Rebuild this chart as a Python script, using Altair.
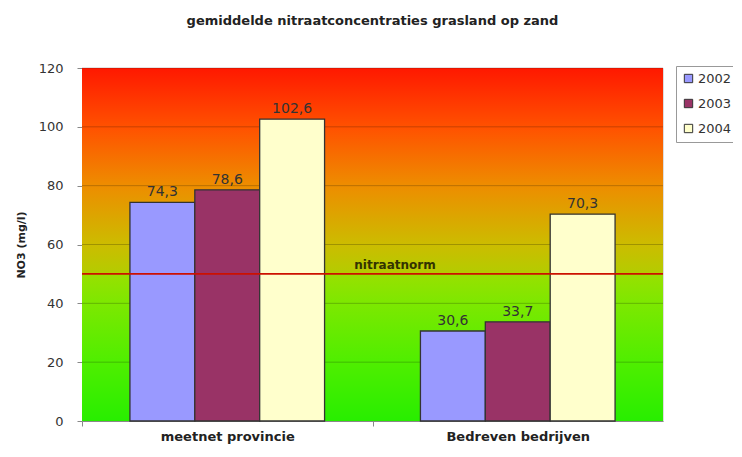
import altair as alt
import pandas as pd

# ---- data ----
categories = ["meetnet provincie", "Bedreven  bedrijven"]
years = ["2002", "2003", "2004"]
values_meetnet = [74.3, 78.6, 102.6]
values_bedrijven = [30.6, 33.7, 70.3]
year_colors = ["#9999FF", "#993366", "#FFFFCC"]
y_ticks = [0, 20, 40, 60, 80, 100, 120]
grid_values = [20, 40, 60, 80, 100, 120]
norm_value = 50
norm_label = "nitraatnorm"
title_text = "gemiddelde nitraatconcentraties grasland op zand"
y_title = "NO3 (mg/l)"

rows = []
for cat, vals in zip(categories, [values_meetnet, values_bedrijven]):
    for yr, v in zip(years, vals):
        rows.append({"cat": cat, "year": yr, "value": v,
                     "label": f"{v:.1f}".replace(".", ",")})
df = pd.DataFrame(rows)

W, H = 581, 353
FONT = "DejaVu Sans"

yscale = alt.Scale(domain=[0, 120], nice=False)

x_enc = alt.X(
    "cat:N", sort=categories,
    scale=alt.Scale(paddingInner=0.33, paddingOuter=0.165),
    axis=alt.Axis(title=None, labelAngle=0, labelFont=FONT, labelFontSize=13,
                  labelFontWeight="bold", labelColor="#222222", labelPadding=4,
                  tickSize=5, tickColor="#888888", domainColor="#888888",
                  tickOffset=-145, labelOffset=145),
)
xoff_enc = alt.XOffset("year:N", sort=years, scale=alt.Scale(paddingInner=0, paddingOuter=0))

# gradient background of the plot area
bg = alt.Chart(pd.DataFrame({"a": [0]})).mark_rect(
    color=alt.Gradient(
        gradient="linear", x1=0, x2=0, y1=0, y2=1,
        stops=[
            alt.GradientStop(offset=0.0, color="#FF1800"),
            alt.GradientStop(offset=0.17, color="#FF5200"),
            alt.GradientStop(offset=0.33, color="#EE8C00"),
            alt.GradientStop(offset=0.50, color="#CCBC00"),
            alt.GradientStop(offset=0.58, color="#B4CC00"),
            alt.GradientStop(offset=0.585, color="#98E000"),
            alt.GradientStop(offset=0.67, color="#7CE800"),
            alt.GradientStop(offset=0.83, color="#50EE00"),
            alt.GradientStop(offset=1.0, color="#28EE00"),
        ],
    )
).encode(
    x=alt.value(0), x2=alt.value(W),
    y=alt.YDatum(120, scale=yscale, title=y_title), y2=alt.Y2Datum(0),
)

grid = alt.Chart(pd.DataFrame({"g": grid_values})).mark_rule(
    color="#000000", opacity=0.22, strokeWidth=1
).encode(y=alt.Y("g:Q", scale=yscale, title=y_title))

bars = alt.Chart(df).mark_bar(stroke="#333333", strokeWidth=1.3).encode(
    x=x_enc,
    xOffset=xoff_enc,
    y=alt.Y("value:Q", scale=yscale, title=y_title,
            axis=alt.Axis(values=y_ticks, grid=False, labelFont=FONT, labelFontSize=13,
                          labelColor="#333333", labelPadding=14, tickSize=5,
                          tickColor="#888888", domainColor="#888888",
                          titleFont=FONT, titleFontSize=11, titleFontWeight="bold",
                          titleColor="#222222", titlePadding=12)),
    color=alt.Color(
        "year:N", sort=years,
        scale=alt.Scale(domain=years, range=year_colors),
        legend=alt.Legend(title=None, orient="none", legendX=594, legendY=-2,
                          symbolType="square", symbolSize=70, symbolStrokeColor="#333333",
                          symbolStrokeWidth=1, labelFont=FONT, labelFontSize=13,
                          labelColor="#333333", labelOffset=3, rowPadding=11,
                          padding=6, strokeColor="#999999", fillColor="#FFFFFF"),
    ),
)

labels = alt.Chart(df).mark_text(
    dy=-10, fontSize=14, font=FONT, color="#333333"
).encode(
    x=x_enc, xOffset=xoff_enc,
    y=alt.Y("value:Q", scale=yscale, title=y_title),
    text="label:N",
)

norm = alt.Chart(pd.DataFrame({"n": [norm_value]})).mark_rule(
    color="#CC1100", strokeWidth=1.6
).encode(y=alt.Y("n:Q", scale=yscale, title=y_title))

norm_text = alt.Chart(pd.DataFrame({"n": [norm_value], "t": [norm_label]})).mark_text(
    dy=-9, fontSize=12, font=FONT, fontWeight="bold", color="#333300"
).encode(
    x=alt.value(313),
    y=alt.Y("n:Q", scale=yscale, title=y_title),
    text="t:N",
)

chart = alt.layer(bg, grid, bars, labels, norm, norm_text).properties(
    width=W, height=H,
    title=alt.TitleParams(title_text, font=FONT, fontSize=13, fontWeight="bold",
                          color="#222222", anchor="middle", offset=34),
    autosize=alt.AutoSizeParams(type="none"),
    padding={"left": 74, "top": 60, "right": 70, "bottom": 24},
).configure_view(stroke=None).configure(background="#FFFFFF")

chart.save("out.html", embed_options={"renderer": "svg", "actions": False})
